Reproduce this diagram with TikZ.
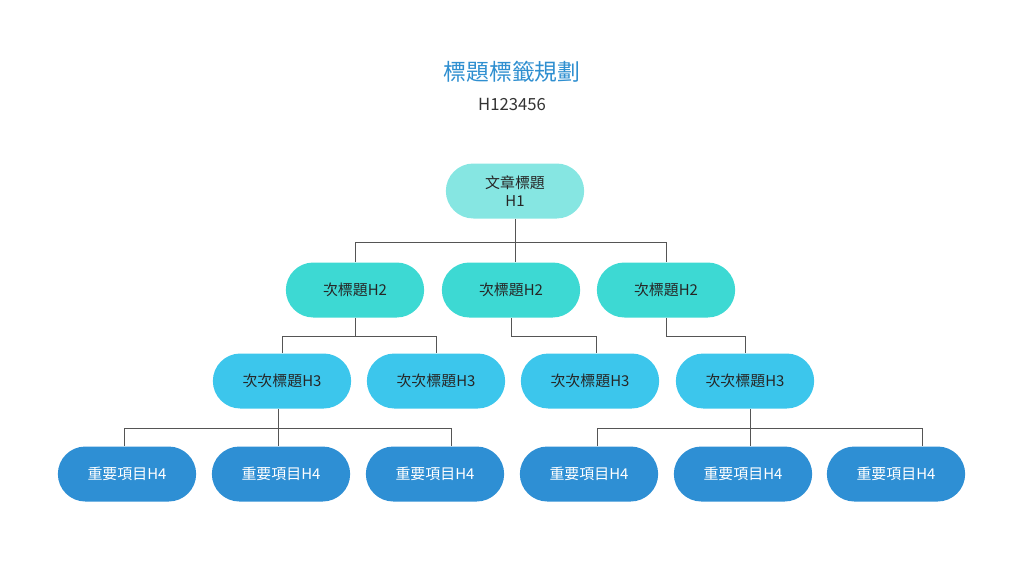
\documentclass[tikz,border=0pt]{standalone}
\usepackage{fontspec}
\setmainfont{Noto Sans CJK TC}
\usetikzlibrary{positioning,shapes.misc}
\definecolor{titleblue}{HTML}{2F8FD0}
\definecolor{hone}{HTML}{86E6E2}
\definecolor{htwo}{HTML}{3DD9D3}
\definecolor{hthree}{HTML}{3CC6EC}
\definecolor{hfour}{HTML}{2E8FD4}
\definecolor{linkgray}{HTML}{555555}
\tikzset{hbox/.style={
  rounded rectangle,
  minimum width=150*0.02cm,
  minimum height=55*0.02cm,
  font=\fontsize{8.5}{10}\selectfont,
  align=center,
  text=black!85
}}
\tikzset{link/.style={draw=linkgray, line width=0.5pt}}
\begin{document}
\begin{tikzpicture}[x=0.02cm,y=-0.02cm]
  \useasboundingbox (0,0) rectangle (1024,576);
  % titles
  \node (title) at (512,72) {\fontsize{13}{15}\selectfont\color{titleblue}標題標籤規劃};
  \node (sub) at (512,104) {\fontsize{9.5}{11}\selectfont\color{black!80}H123456};
  % levels
  \node [hbox, fill=hone] (h1) at (515,191) {文章標題\\H1};
  \node [hbox, fill=htwo] (h2a) at (355,290) {次標題H2};
  \node [hbox, fill=htwo] (h2b) at (511,290) {次標題H2};
  \node [hbox, fill=htwo] (h2c) at (666,290) {次標題H2};
  \node [hbox, fill=hthree] (h3a) at (282,381) {次次標題H3};
  \node [hbox, fill=hthree] (h3b) at (436,381) {次次標題H3};
  \node [hbox, fill=hthree] (h3c) at (590,381) {次次標題H3};
  \node [hbox, fill=hthree] (h3d) at (745,381) {次次標題H3};
  \node [hbox, fill=hfour, text=white] (h4a) at (127,474) {重要項目H4};
  \node [hbox, fill=hfour, text=white] (h4b) at (281,474) {重要項目H4};
  \node [hbox, fill=hfour, text=white] (h4c) at (435,474) {重要項目H4};
  \node [hbox, fill=hfour, text=white] (h4d) at (589,474) {重要項目H4};
  \node [hbox, fill=hfour, text=white] (h4e) at (743,474) {重要項目H4};
  \node [hbox, fill=hfour, text=white] (h4f) at (896,474) {重要項目H4};
  % connectors
  \coordinate (bar1) at (515,242);
  \coordinate (bar2) at (355,336);
  \coordinate (bar3) at (278,428);
  \coordinate (bar4) at (750,428);
  \draw [link] (h1.south) -- (h1.south |- h2b.north);
  \draw [link] (h2a.north) |- (bar1) -| (h2c.north);
  \draw [link] (h2a.south) -- (bar2);
  \draw [link] (h3a.north) |- (bar2) -| (h3b.north);
  \draw [link] (h2b.south) |- ([xshift=6*0.02cm]h3c.north |- bar2) -- ([xshift=6*0.02cm]h3c.north);
  \draw [link] (h2c.south) |- (h3d.north |- bar2) -- (h3d.north);
  \draw [link] (h3a.south -| bar3) -- (h4b.north -| bar3);
  \draw [link] ([xshift=-3*0.02cm]h4a.north) |- (bar3) -| ([xshift=16*0.02cm]h4c.north);
  \draw [link] (h3d.south -| bar4) -- (h4e.north -| bar4);
  \draw [link] ([xshift=8*0.02cm]h4d.north) |- (bar4) -| ([xshift=26*0.02cm]h4f.north);
\end{tikzpicture}
\end{document}
